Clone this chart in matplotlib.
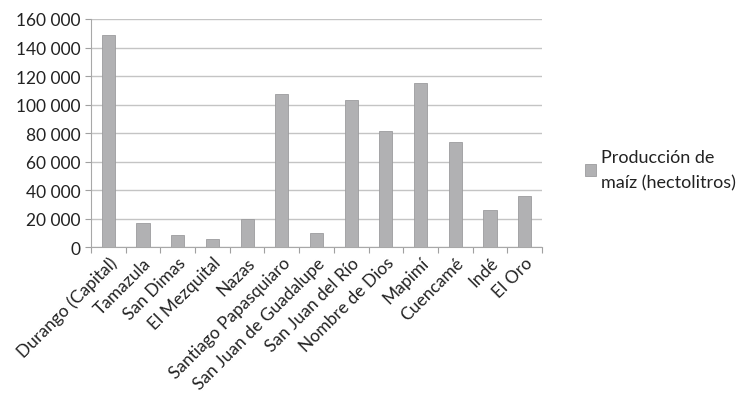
import numpy as np
import matplotlib.pyplot as plt
from matplotlib.ticker import FuncFormatter

municipios = ['Durango (Capital)', 'Tamazula', 'San Dimas', 'El Mezquital', 'Nazas',
              'Santiago Papasquiaro', 'San Juan de Guadalupe', 'San Juan del Río',
              'Nombre de Dios', 'Mapimí', 'Cuencamé', 'Indé', 'El Oro']
produccion = [148800, 17300, 8900, 6000, 19700, 107700, 10100, 103000,
              81700, 115400, 74000, 25900, 36000]

plt.rcParams['font.family'] = ['Lato', 'DejaVu Sans']

fig = plt.figure(figsize=(7.5, 4.14), dpi=100)
ax = fig.add_axes([91 / 750, 1 - 248.3 / 414, (542 - 91) / 750, (248.3 - 20) / 414])

x = np.arange(len(municipios))
ax.bar(x, produccion, width=0.38, color='#b1b1b3', edgecolor='#9c9c9e', linewidth=0.6,
       label='Producción de\nmaíz (hectolitros)', zorder=3)

ax.set_xlim(-0.5, len(municipios) - 0.5)
ax.set_ylim(0, 160000)
ax.set_yticks(np.arange(0, 160001, 20000))
ax.yaxis.set_major_formatter(FuncFormatter(lambda v, p: f'{int(v):,}'.replace(',', ' ')))
ax.grid(axis='y', color='#c4c4c4', linewidth=1, zorder=0)

# category boundary ticks
ax.set_xticks(np.arange(-0.5, len(municipios), 1))
ax.set_xticklabels([])
ax.set_xticks(x, minor=True)
ax.set_xticklabels(municipios, minor=True, rotation=45, ha='right', rotation_mode='anchor',
                   fontsize=12.5, color='#222222')
ax.tick_params(axis='x', which='minor', length=0, pad=5)
ax.tick_params(axis='x', which='major', length=4, color='#a0a0a0')
ax.tick_params(axis='y', length=4, color='#a0a0a0', labelsize=12.5, labelcolor='#222222')

for s in ['top', 'right']:
    ax.spines[s].set_visible(False)
for s in ['left', 'bottom']:
    ax.spines[s].set_color('#a8a8a8')

leg = ax.legend(loc='center left', bbox_to_anchor=(1.06, 0.34), frameon=False, fontsize=13,
                handlelength=0.6, handleheight=0.6, handletextpad=0.25, labelcolor='#222222')
for t in leg.get_texts():
    t.set_linespacing(1.7)

fig.savefig('out.png', dpi=100)
